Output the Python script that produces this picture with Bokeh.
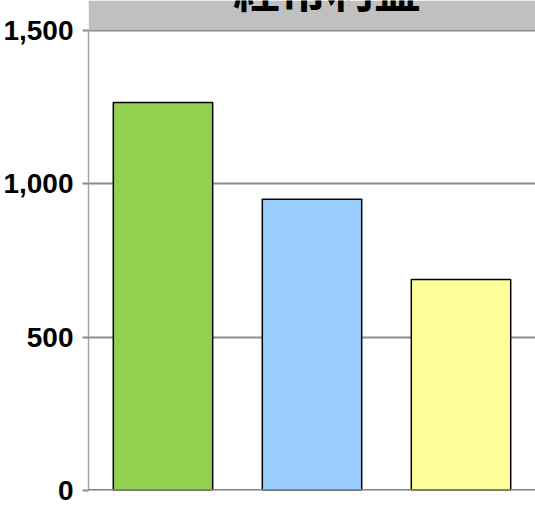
from bokeh.plotting import figure
from bokeh.models import (FactorRange, Range1d, FixedTicker, NumeralTickFormatter,
                          BoxAnnotation, Span, Label, ColumnDataSource)
from bokeh.embed import file_html
from bokeh.resources import INLINE

# ---- data ----
categories = ["A", "B", "C"]
values = [1265, 950, 688]
colors = ["#92D050", "#99CCFF", "#FFFF99"]
y_ticks = [0, 500, 1000, 1500]
title_text = "経常利益"

W, H = 535, 508
left_border, bottom_border = 87, 18
frame_h = H - bottom_border
y_max = 1500
y_end = y_max * frame_h / (frame_h - 30)

src = ColumnDataSource(dict(cat=categories, val=values, color=colors))

p = figure(width=W, height=H, x_range=FactorRange(*categories),
           y_range=Range1d(0, y_end), output_backend="svg", toolbar_location=None,
           min_border_left=left_border, min_border_right=0, min_border_top=0,
           min_border_bottom=bottom_border)
p.outline_line_color = None
p.background_fill_color = "white"
p.border_fill_color = "white"

p.vbar(x="cat", top="val", width=0.667, source=src, fill_color="color",
       line_color="black", line_width=1.5)

# grid
p.xgrid.grid_line_color = None
p.ygrid.ticker = FixedTicker(ticks=y_ticks)
p.ygrid.grid_line_color = "#8C8C8C"
p.ygrid.grid_line_width = 2

# title band
p.add_layout(BoxAnnotation(bottom=y_max, fill_color="#C0C0C0", fill_alpha=1,
                           line_color=None, level="underlay"))
p.add_layout(Span(location=y_max, dimension="width", line_color="#8C8C8C",
                  line_width=1))
p.add_layout(Span(location=0, dimension="width", line_color="#808080",
                  line_width=3, level="overlay"))
p.add_layout(Label(x=1.5, x_offset=15, y=y_max, y_offset=44, text=title_text,
                   text_align="center", text_baseline="alphabetic",
                   text_font="Noto Sans CJK JP", text_font_style="bold",
                   text_font_size="47px", text_color="black"))

# axes
p.xaxis.visible = False
ya = p.yaxis[0]
ya.ticker = FixedTicker(ticks=y_ticks)
ya.formatter = NumeralTickFormatter(format="0,0")
ya.bounds = (0, y_max)
ya.axis_line_color = "#A6A6A6"
ya.axis_line_width = 1.5
ya.major_tick_line_color = "#8C8C8C"
ya.major_tick_line_width = 2
ya.major_tick_in = 0
ya.major_tick_out = 6
ya.minor_tick_line_color = None
ya.major_label_standoff = 9
ya.major_label_text_font = "Liberation Sans"
ya.major_label_text_font_style = "bold"
ya.major_label_text_font_size = "28px"
ya.major_label_text_color = "black"

open("out.html", "w").write(file_html(p, INLINE))
